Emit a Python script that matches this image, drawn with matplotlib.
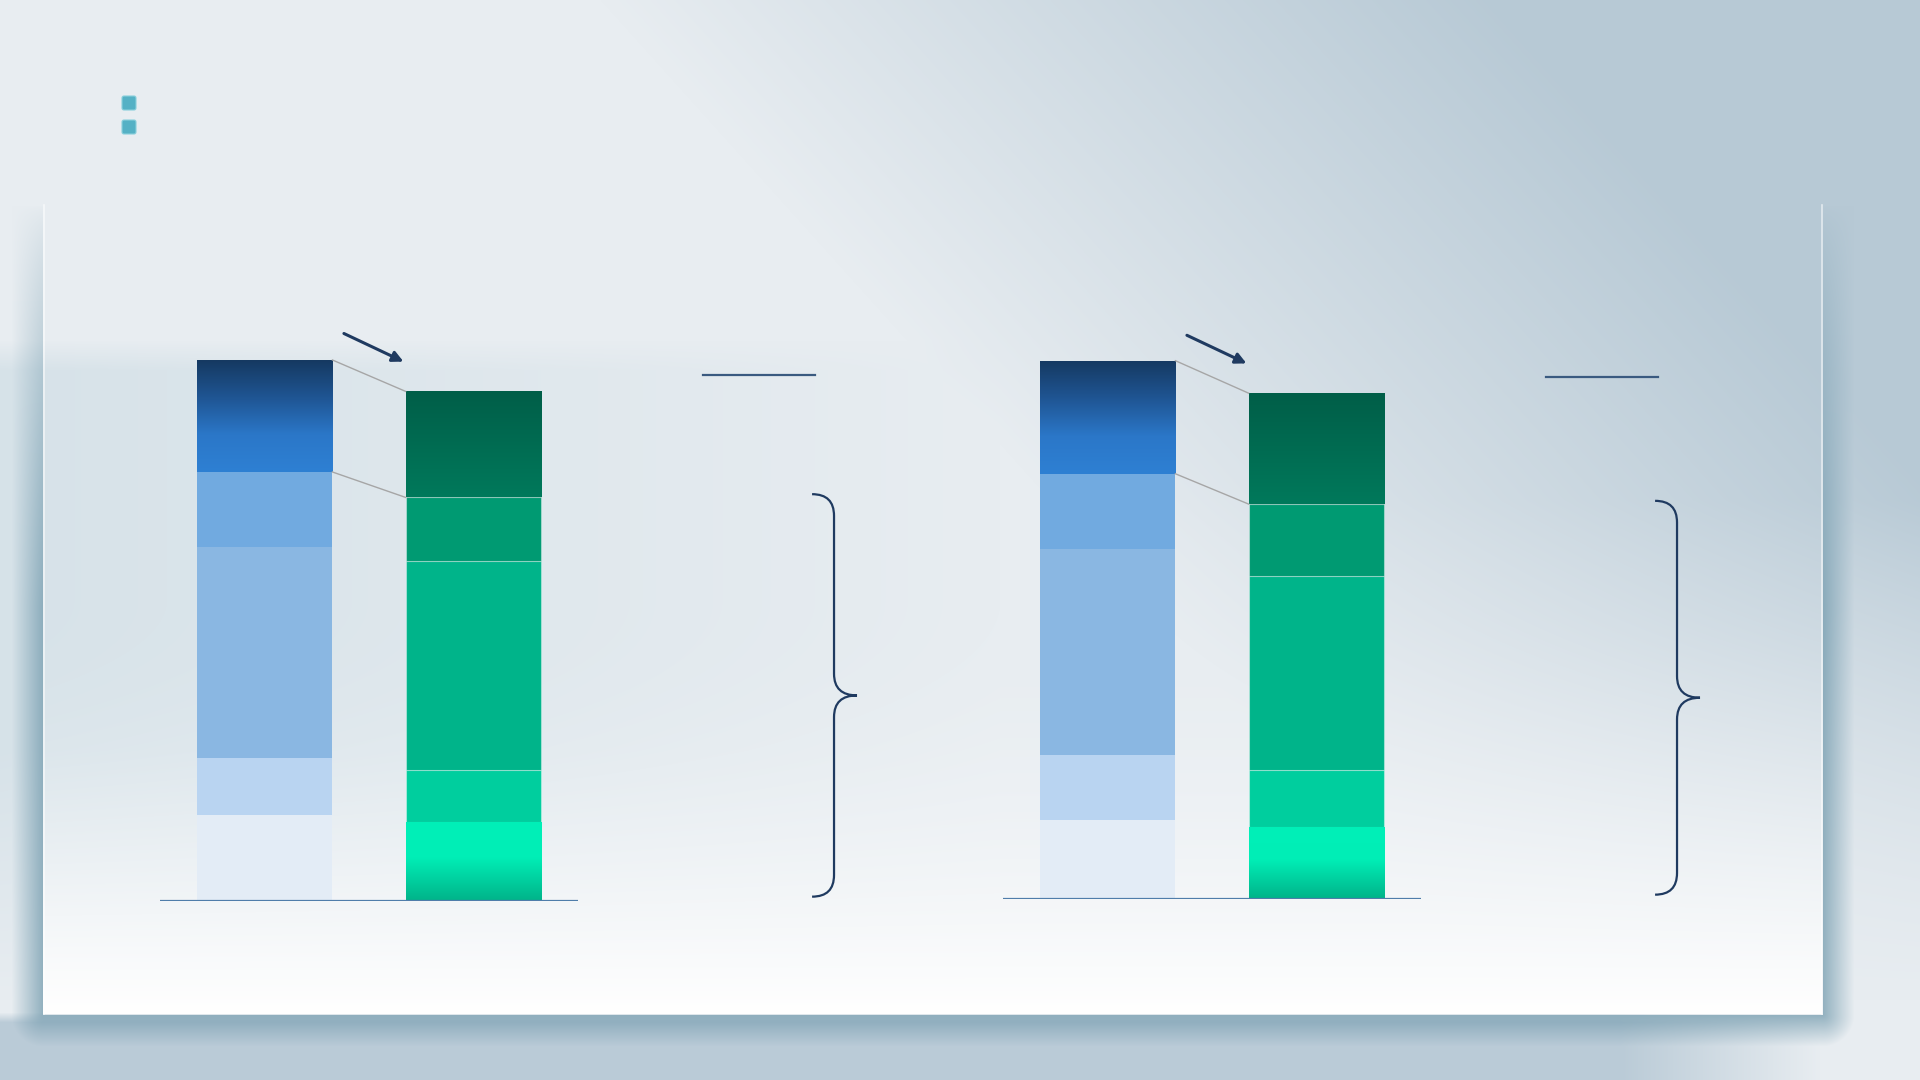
import numpy as np
import matplotlib
matplotlib.use("Agg")
import matplotlib.pyplot as plt
from matplotlib.path import Path
from matplotlib.patches import PathPatch, FancyBboxPatch
from matplotlib.colors import LinearSegmentedColormap, to_rgb

# --- data (segments listed bottom -> top) ---
groups = ["left", "right"]
blue_left = [15.9, 10.5, 39.0, 13.9, 20.7]
green_left = [14.6, 9.6, 38.6, 11.8, 19.6]
blue_right = [14.6, 12.0, 38.1, 13.9, 20.9]
green_right = [13.3, 10.5, 35.9, 13.3, 20.5]

blue_colors = ["#E3ECF6", "#B9D4F1", "#8AB7E2", "#71AAE0", None]
green_colors = [None, "#00CE9E", "#00B48A", "#009A72", None]

W, H = 1920, 1080
PX_PER_UNIT = 5.41


def rgb(h):
    return np.array(to_rgb(h))


def make_background():
    yy, xx = np.mgrid[0:H, 0:W].astype(float)
    img = np.ones((H, W, 3)) * rgb("#E8EDF1")

    # darker blue-grey wash in the top right
    w1 = np.clip((xx - 600) / 900 - yy / 1000, 0, 1)
    w1 *= np.clip((1000 - yy) / 500, 0, 1)
    img = img * (1 - w1[..., None]) + rgb("#B7C9D5") * w1[..., None]

    # bluish band on the left
    w2 = (np.clip((yy - 340) / 30, 0, 1) * np.clip(1 - xx / 1000, 0, 1)
          * np.clip((1000 - yy) / 250, 0, 1) * 0.6)
    img = img * (1 - w2[..., None]) + rgb("#CBDBE3") * w2[..., None]

    # strip under the panel
    w3 = np.clip((yy - 1012) / 10, 0, 1) * np.clip((1820 - xx) / 200, 0, 1)
    img = img * (1 - w3[..., None]) + rgb("#BACBD7") * w3[..., None]

    # panel shadow
    x0, x1, y0, y1 = 43, 1822, 205, 1014
    dx = np.maximum(np.maximum(x0 - xx, xx - x1), 0)
    dy = np.maximum(yy - y1, 0)
    d = np.sqrt(dx ** 2 + dy ** 2)
    outside = (d > 0).astype(float)
    sh = (0.72 * np.clip(1 - d / 32, 0, 1) * outside
          * np.clip((yy - 205) / 400, 0, 1) ** 0.7)
    img = img * (1 - sh[..., None]) + rgb("#6F98AB") * sh[..., None]

    # panel: transparent at the top, white at the bottom
    inside = ((xx >= x0) & (xx < x1) & (yy >= y0) & (yy < y1)).astype(float)
    pa = inside * np.clip((yy - 600) / 414, 0, 1) ** 2
    img = img * (1 - pa[..., None]) + 1.0 * pa[..., None]
    return img


def gradient_fill(ax, patch, stops):
    # stops run from the top of the patch to its bottom
    cmap = LinearSegmentedColormap.from_list("g", stops)
    x, y = patch.get_x(), patch.get_y()
    w, h = patch.get_width(), patch.get_height()
    grad = np.linspace(0, 1, 256).reshape(-1, 1)
    im = ax.imshow(grad, cmap=cmap, vmin=0, vmax=1, aspect="auto",
                   extent=[x, x + w, y, y + h], origin="upper",
                   interpolation="bilinear", zorder=patch.get_zorder() + 0.1)
    im.set_clip_path(patch)


def brace(ax, y_bot, y_top, x0=2.62, x1=2.725, x2=2.835, r=4.0):
    ym = (y_bot + y_top) / 2
    verts = [(x0, y_top), (x1, y_top), (x1, y_top - r),
             (x1, ym + r), (x1, ym), (x2, ym),
             (x1, ym), (x1, ym - r),
             (x1, y_bot + r), (x1, y_bot), (x0, y_bot)]
    codes = [Path.MOVETO, Path.CURVE3, Path.CURVE3,
             Path.LINETO, Path.CURVE3, Path.CURVE3,
             Path.CURVE3, Path.CURVE3,
             Path.LINETO, Path.CURVE3, Path.CURVE3]
    ax.add_patch(PathPatch(Path(verts, codes), fill=False, ec="#1F3A60",
                           lw=1.6, clip_on=False, zorder=5))


def draw_group(ax, blue, green):
    width = 0.65
    # blue stack
    bottom = 0
    for i, v in enumerate(blue):
        bar = ax.bar(0, v, width, bottom=bottom, color=blue_colors[i] or "#2E80D3",
                     linewidth=0, zorder=3)[0]
        if i == len(blue) - 1:
            gradient_fill(ax, bar, ["#153961", "#1F5593", "#2B77C8", "#2E80D3"])
        bottom += v
    # green stack
    bottom = 0
    for i, v in enumerate(green):
        bar = ax.bar(1, v, width, bottom=bottom, color=green_colors[i] or "#00785A",
                     edgecolor=(1, 1, 1, 0.35), linewidth=0.8, zorder=3)[0]
        if i == 0:
            gradient_fill(ax, bar, [(0, "#00F0B8"), (0.45, "#00EEB6"), (1, "#00B389")])
        elif i == len(green) - 1:
            gradient_fill(ax, bar, ["#005E48", "#00795B"])
        bottom += v

    blue_cum = np.cumsum(blue)
    green_cum = np.cumsum(green)
    # connector lines between the two bars
    for b, g in [(blue_cum[-1], green_cum[-1]), (blue_cum[-2], green_cum[-2])]:
        ax.plot([width / 2, 1 - width / 2], [b, g], color="#A6A6A6", lw=1.0, zorder=4)

    ax.axhline(0, color="#4F7DAA", lw=1.6, zorder=4)

    # arrow pointing at the smaller total
    tip = green_cum[-1] + 5.5
    ax.annotate("", xy=(0.665, tip), xytext=(0.38, tip + 5.2),
                arrowprops=dict(arrowstyle="-|>", color="#1F3A60", lw=2.2,
                                mutation_scale=16, shrinkA=0, shrinkB=0),
                annotation_clip=False, zorder=5)

    # label underline and brace on the right
    ax.plot([2.10, 2.635], [green_cum[-1] + 3, green_cum[-1] + 3], color="#3A5A80",
            lw=1.6, clip_on=False, zorder=5)
    brace(ax, 0.8, green_cum[-2] + 0.6)


fig = plt.figure(figsize=(19.2, 10.8), dpi=100)

bg = fig.add_axes([0, 0, 1, 1])
bg.imshow(make_background(), extent=[0, W, H, 0], aspect="auto", interpolation="bilinear")
bg.set_xlim(0, W)
bg.set_ylim(H, 0)
bg.axis("off")
# light edges of the panel
bg.plot([43.5, 43.5], [205, 1014], color="white", alpha=0.6, lw=1.2)
bg.plot([1821.5, 1821.5], [205, 1014], color="white", alpha=0.6, lw=1.2)
# small teal markers at top left
for y in (96, 120):
    bg.add_patch(FancyBboxPatch((122, y), 14, 14, boxstyle="round,pad=0,rounding_size=2",
                                fc="#55B1C5", ec="#8AD0DC", lw=0.8))

ymax = 120
axes_h = ymax * PX_PER_UNIT / H
for (base_px, left_px), (blue, green) in zip([(901, 160), (899, 1003)],
                                              [(blue_left, green_left), (blue_right, green_right)]):
    ax = fig.add_axes([left_px / W, (H - base_px) / H, 418 / W, axes_h])
    ax.set_xlim(-0.5, 1.5)
    ax.set_ylim(0, ymax)
    ax.patch.set_alpha(0)
    ax.axis("off")
    draw_group(ax, blue, green)

plt.savefig("out.png", dpi=100)
